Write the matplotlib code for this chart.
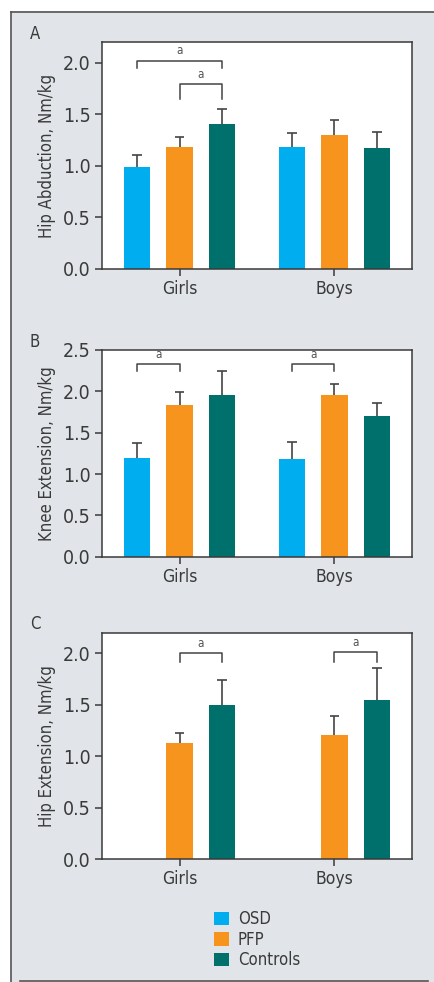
import matplotlib
matplotlib.use("Agg")
import matplotlib.pyplot as plt
from matplotlib.patches import Patch
import numpy as np

plt.rcParams['font.family'] = ['Liberation Sans Narrow', 'DejaVu Sans']
plt.rcParams['font.stretch'] = 'condensed'

groups = ["Girls", "Boys"]
series = ["OSD", "PFP", "Controls"]
colors = ["#00aeef", "#f7941d", "#00706d"]

# panel A: hip abduction
a_mean = [[0.99, 1.18], [1.18, 1.30], [1.40, 1.17]]
a_top = [[1.10, 1.32], [1.28, 1.44], [1.55, 1.33]]
# panel B: knee extension
b_mean = [[1.19, 1.18], [1.83, 1.96], [1.96, 1.70]]
b_top = [[1.37, 1.39], [1.99, 2.09], [2.24, 1.855]]
# panel C: hip extension (no OSD)
c_mean = [[np.nan, np.nan], [1.13, 1.21], [1.50, 1.55]]
c_top = [[np.nan, np.nan], [1.23, 1.39], [1.74, 1.86]]

# brackets: (group, series i, series j, line height, leg bottom)
a_br = [(0, 0, 2, 2.02, 1.95), (0, 1, 2, 1.79, 1.65)]
b_br = [(0, 0, 1, 2.33, 2.25), (1, 0, 1, 2.33, 2.25)]
c_br = [(0, 1, 2, 2.00, 1.92), (1, 1, 2, 2.01, 1.92)]

panels = [
    ("A", "Hip Abduction, Nm/kg", a_mean, a_top, a_br, 2.2, [0.7261, 0.2312]),
    ("B", "Knee Extension, Nm/kg", b_mean, b_top, b_br, 2.5, [0.4331, 0.2105]),
    ("C", "Hip Extension, Nm/kg", c_mean, c_top, c_br, 2.2, [0.1250, 0.2307]),
]

txt = "#3a3a3a"
bg = "#e1e4e8"
w = 0.168
step = 0.274
cap = 0.03

fig = plt.figure(figsize=(4.35, 9.82), dpi=100)
fig.patch.set_facecolor("white")
# grey panel with frame
rect = plt.Rectangle((11 / 435, 0), 1, 1 - 11 / 982, transform=fig.transFigure,
                     facecolor=bg, edgecolor="none", zorder=-5)
fig.add_artist(rect)
fig.add_artist(plt.Line2D([11.5 / 435, 1], [1 - 11.5 / 982] * 2, color="#555555", lw=1.2))
fig.add_artist(plt.Line2D([11.5 / 435] * 2, [0, 1 - 11.5 / 982], color="#555555", lw=1.2))
fig.add_artist(plt.Line2D([20 / 435, 428 / 435], [1.3 / 982] * 2, color="#555555", lw=1.2))

x = np.arange(len(groups))
for letter, ylab, mean, top, brs, ymax, (b, h) in panels:
    ax = fig.add_axes([0.2345, b, 0.7126, h])
    ax.set_facecolor("white")
    for i in range(3):
        xs = x + (i - 1) * step
        m = np.array(mean[i], dtype=float)
        t = np.array(top[i], dtype=float)
        ax.bar(xs, m, w, color=colors[i], zorder=2, linewidth=0)
        ax.vlines(xs, m, t, color="#444444", lw=1.2, zorder=1)
        ax.hlines(t, xs - cap, xs + cap, color="#444444", lw=1.2, zorder=1)
    for g, i, j, yl, yb in brs:
        x1 = g + (i - 1) * step
        x2 = g + (j - 1) * step
        ax.plot([x1, x1, x2, x2], [yb, yl, yl, yb], color="#444444", lw=1.1)
        ax.text((x1 + x2) / 2, yl + 0.03 * ymax / 2.2, "a", ha="center", va="bottom",
                fontsize=8.5, color="#555555")
    ax.set_xlim(-0.5, 1.5)
    ax.set_ylim(0, ymax)
    ax.set_yticks(np.arange(0, ymax + 0.01, 0.5))
    ax.set_yticklabels(["%.1f" % v for v in np.arange(0, ymax + 0.01, 0.5)])
    ax.set_xticks(x)
    ax.set_xticklabels(groups)
    ax.tick_params(axis="both", colors=txt, length=5, width=1.1, labelsize=14, pad=3)
    ax.tick_params(axis="x", labelsize=12.5, pad=3)
    for s in ax.spines.values():
        s.set_color("#3a3a3a")
        s.set_linewidth(1.1)
    ax.set_ylabel(ylab, fontsize=12, color=txt, labelpad=5)
    fig.text(35 / 435, b + h + 0.0085, letter, fontsize=12, color=txt, ha="center", va="center")

handles = [Patch(facecolor=c, edgecolor="none") for c in colors]
fig.legend(handles, series, loc="upper left", bbox_to_anchor=(206 / 435, 1 - 902 / 982),
           frameon=False, fontsize=12, handlelength=0.9, handleheight=0.85,
           handletextpad=0.5, labelspacing=0.15, borderpad=0, labelcolor=txt)

fig.savefig("out.png", dpi=100)
